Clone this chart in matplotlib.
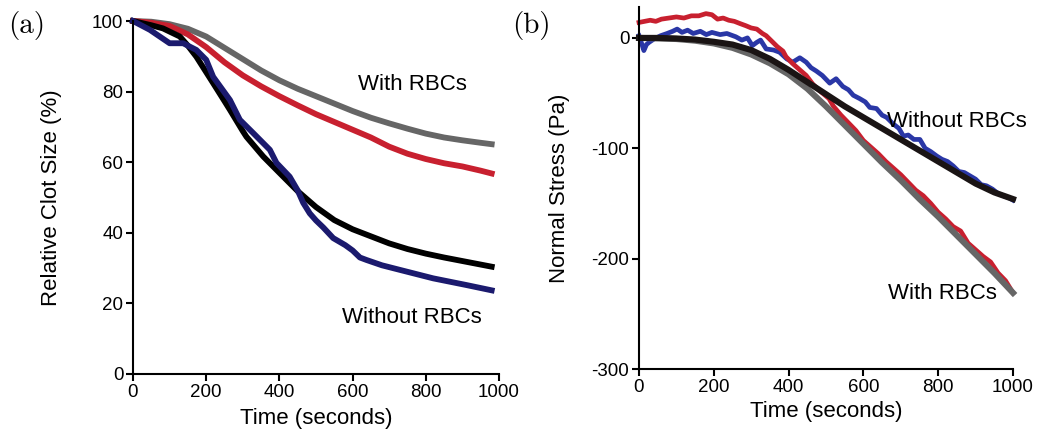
import numpy as np
import matplotlib
matplotlib.use("Agg")
import matplotlib.pyplot as plt

plt.rcParams['font.family'] = ['Liberation Sans', 'DejaVu Sans']
plt.rcParams['axes.unicode_minus'] = False

# ---- panel (a): relative clot size (%) ----
t_gray_a = [0, 50, 100, 150, 200, 250, 300, 350, 400, 450, 500, 550, 600, 650, 700, 750, 800, 850, 900, 950, 980]
gray_a = [100, 99.8, 99.1, 97.8, 95.6, 92.4, 89.2, 86.0, 83.2, 80.8, 78.7, 76.6, 74.5, 72.6, 71.0, 69.5, 68.1, 67.0, 66.2, 65.5, 65.1]

t_red_a = [0, 50, 100, 150, 200, 250, 300, 350, 400, 450, 500, 550, 600, 650, 700, 750, 800, 850, 900, 950, 980]
red_a = [100, 99.5, 98.6, 96.2, 92.6, 88.3, 84.6, 81.5, 78.7, 76.1, 73.6, 71.4, 69.2, 67.0, 64.4, 62.4, 60.9, 59.7, 58.8, 57.6, 56.8]

t_black_a = [0, 50, 82, 100, 128, 150, 173, 200, 219, 250, 265, 300, 310, 356, 400, 450, 500, 550, 600, 650, 700, 750, 800, 850, 900, 950, 980]
black_a = [100, 98.8, 97.9, 97.0, 95.6, 93.0, 89.9, 85.5, 82.4, 77.3, 74.8, 68.8, 67.2, 61.6, 57.0, 51.8, 47.3, 43.6, 41.0, 39.0, 37.0, 35.4, 34.1, 33.0, 32.0, 31.0, 30.4]

t_blue_a = [0, 46, 100, 137, 173, 200, 219, 265, 292, 328, 374, 392, 428, 450, 465, 483, 500, 520, 547, 580, 600, 620, 638, 680, 729, 820, 911, 980]
blue_a = [100, 97.5, 93.7, 93.7, 91.8, 89.0, 84.2, 77.6, 72.0, 68.3, 63.5, 59.8, 55.9, 52.0, 48.5, 45.5, 43.5, 41.5, 38.5, 36.5, 35.0, 33.0, 32.3, 30.8, 29.5, 27.1, 25.2, 23.7]

# ---- panel (b): normal stress (Pa) ----
t_gray_b = [0, 100, 150, 200, 250, 300, 350, 400, 450, 500, 550, 600, 650, 700, 750, 800, 850, 900, 950, 1000]
gray_b = [0, -1, -2.5, -5, -9, -15, -23, -33, -46, -62, -79, -96, -113, -129, -146, -162, -179, -196, -213, -231]

t_black_b = [0, 50, 100, 150, 200, 250, 300, 350, 400, 450, 500, 550, 600, 650, 700, 750, 800, 850, 900, 950, 1000]
black_b = [0, 0, -0.5, -1.5, -3.5, -6, -11, -19, -29, -40, -51, -62, -72, -82, -92, -102, -112, -122, -132, -140, -146]

t_red_b = [0, 15, 30, 45, 60, 80, 100, 120, 140, 160, 179, 195, 210, 225, 240, 255, 270, 286, 300, 315,
           330, 340, 355, 370, 385, 393, 410, 430, 447, 465, 480, 508, 520, 540, 560, 580, 600, 620, 640, 660,
           680, 700, 720, 740, 760, 780, 800, 820, 840, 860, 880, 900, 920, 940, 960, 980, 1000]
red_b = [14, 15, 16, 15, 17, 18, 19, 18, 20, 20, 22, 21, 17, 18, 16, 15, 13, 11, 9, 8,
         4, 2, -3, -8, -12, -17, -23, -29, -34, -42, -47, -55, -62, -70, -77, -84, -93, -99, -105, -112,
         -118, -124, -131, -138, -143, -150, -158, -164, -171, -175, -186, -192, -198, -203, -213, -220, -231]

t_blue_b = [0, 8, 13, 20, 27, 40, 58, 75, 90, 102, 115, 130, 145, 164, 180, 195, 217, 235, 259, 275,
            290, 303, 315, 325, 340, 360, 376, 395, 411, 430, 447, 460, 474, 490, 510, 527, 545, 560, 573, 590,
            605, 617, 635, 650, 662, 680, 695, 707, 720, 735, 751, 765, 780, 796, 810, 825, 840, 855, 870, 885,
            900, 915, 929, 945, 960, 974, 990, 1000]
blue_b = [2, -6, -11.5, -6, -4, -1, 2, 4, 6, 8, 5, 7, 4, 6, 3, 5, 3, 4, 1, -2,
          0, -7, -4, -2, -10, -11, -13, -19, -22, -18, -22, -27, -30, -34, -41, -37, -44, -47, -52, -55,
          -58, -63, -64, -70, -72, -78, -82, -89, -88, -92, -92, -100, -103, -107, -110, -112, -116, -121, -122, -125,
          -128, -133, -134, -137, -141, -143, -145, -147]

fig = plt.figure(figsize=(10.49, 4.32), dpi=100)

ax1 = fig.add_axes([133/1049, 1 - 374/432, 366/1049, 353/432])
ax1.plot(t_gray_a, gray_a, color='#666666', lw=4.2, clip_on=False)
ax1.plot(t_red_a, red_a, color='#c8202f', lw=4.2, clip_on=False)
ax1.plot(t_black_a, black_a, color='black', lw=4.2, clip_on=False)
ax1.plot(t_blue_a, blue_a, color='#1b1a6e', lw=4.2, clip_on=False)
ax1.set_xlim(0, 1000)
ax1.set_ylim(0, 100)
ax1.set_xticks([0, 200, 400, 600, 800, 1000])
ax1.set_yticks([0, 20, 40, 60, 80, 100])
ax1.set_xlabel('Time (seconds)', fontsize=16)
ax1.set_ylabel('Relative Clot Size (%)', fontsize=16)
ax1.xaxis.set_label_coords(0.5, -0.096)
ax1.yaxis.set_label_coords(-0.194, 0.5)
ax1.text(615, 82, 'With RBCs', fontsize=16, va='center')
ax1.text(571, 16, 'Without RBCs', fontsize=16, va='center')

ax2 = fig.add_axes([639/1049, 1 - 369/432, 374/1049, 362/432])
ax2.plot(t_blue_b, blue_b, color='#2a37a6', lw=3.4, clip_on=False)
ax2.plot(t_red_b, red_b, color='#c8202f', lw=3.4, clip_on=False)
ax2.plot(t_gray_b, gray_b, color='#666666', lw=4.4, clip_on=False)
ax2.plot(t_black_b, black_b, color='#1a1414', lw=4.4, clip_on=False)
ax2.set_xlim(0, 1000)
ax2.set_ylim(-300, 28)
ax2.set_xticks([0, 200, 400, 600, 800, 1000])
ax2.set_yticks([0, -100, -200, -300])
ax2.set_xlabel('Time (seconds)', fontsize=16)
ax2.set_ylabel('Normal Stress (Pa)', fontsize=16)
ax2.xaxis.set_label_coords(0.5, -0.088)
ax2.yaxis.set_label_coords(-0.184, 0.5)
ax2.text(663, -76, 'Without RBCs', fontsize=16, va='center')
ax2.text(666, -232, 'With RBCs', fontsize=16, va='center')

for ax in (ax1, ax2):
    ax.spines['top'].set_visible(False)
    ax.spines['right'].set_visible(False)
    ax.spines['left'].set_linewidth(1.5)
    ax.spines['bottom'].set_linewidth(1.5)
    ax.tick_params(direction='out', length=5, width=1.5, labelsize=13.5, pad=2)

fig.text(27/1049, 1 - 26/432, '(a)', fontsize=21, family='cmr10', ha='center', va='center')
fig.text(531/1049, 1 - 26/432, '(b)', fontsize=21, family='cmr10', ha='center', va='center')

fig.savefig('out.png', dpi=100)
